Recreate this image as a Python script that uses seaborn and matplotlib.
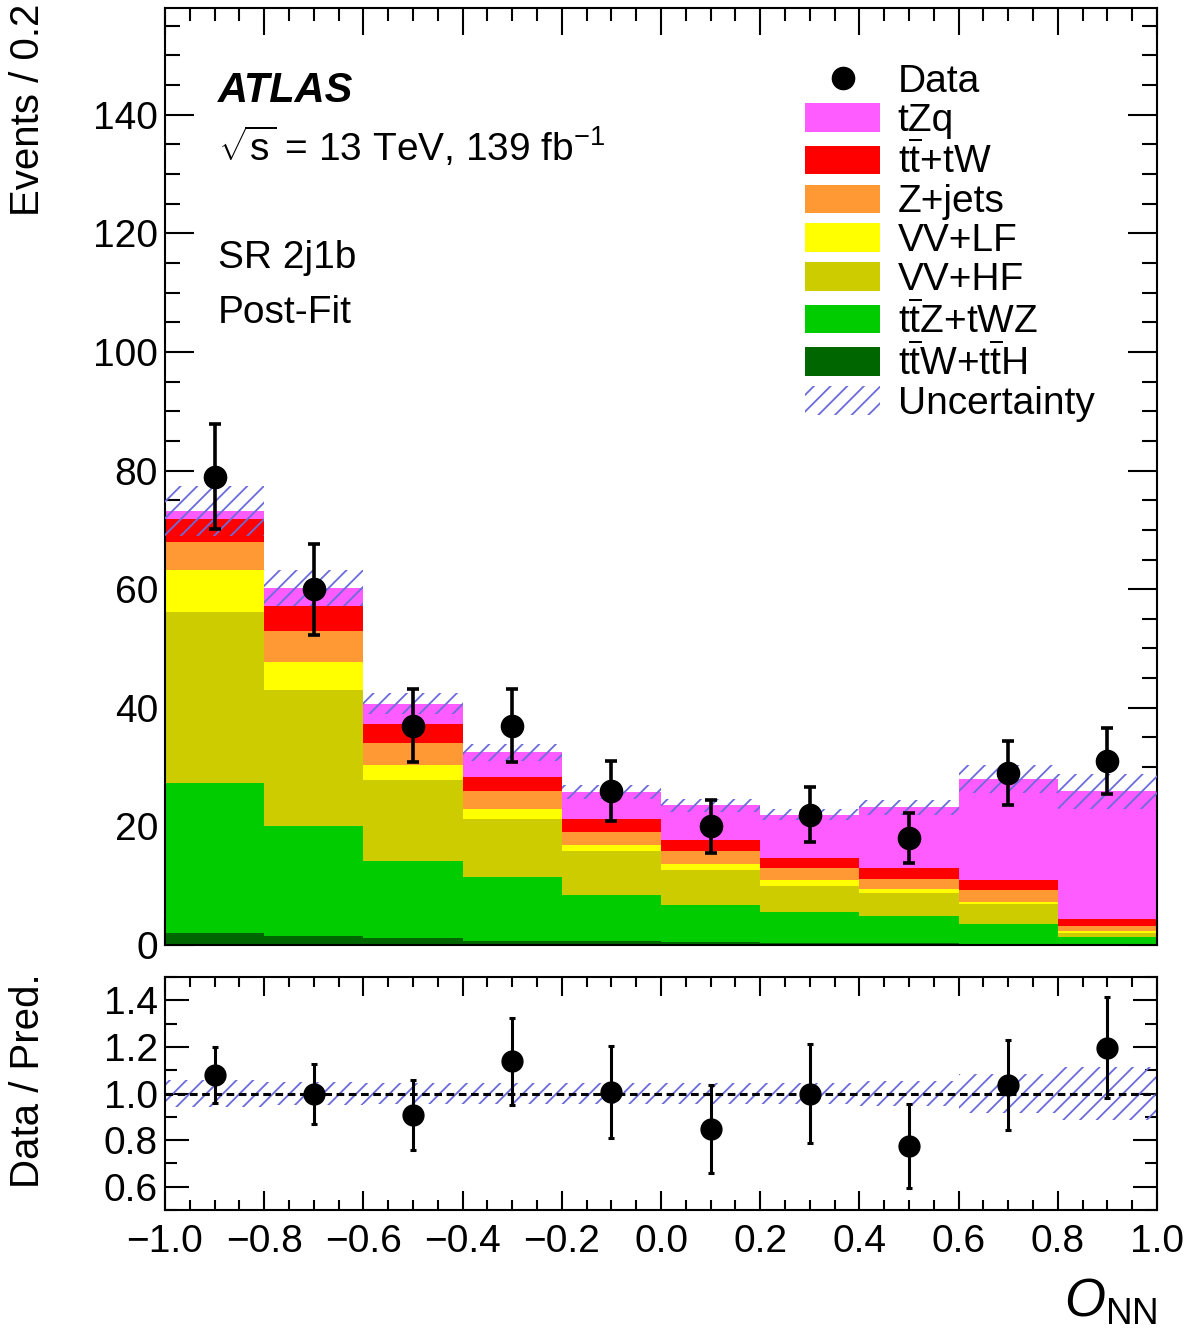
import numpy as np
import pandas as pd
import matplotlib
matplotlib.use("Agg")
import matplotlib.pyplot as plt
import seaborn as sns
from matplotlib.patches import Patch
from matplotlib.lines import Line2D
from matplotlib.ticker import MultipleLocator, FuncFormatter

sns.set_theme(style="ticks")
plt.rcParams["font.family"] = ["Liberation Sans", "DejaVu Sans"]
plt.rcParams["mathtext.fontset"] = "custom"
plt.rcParams["mathtext.rm"] = "Liberation Sans"
plt.rcParams["mathtext.it"] = "Liberation Sans:italic"
plt.rcParams["mathtext.bf"] = "Liberation Sans:bold"
for key in ["text.color", "axes.labelcolor", "xtick.color", "ytick.color", "axes.edgecolor"]:
    plt.rcParams[key] = "black"
HATCH = "#6b6bdc"
plt.rcParams["hatch.color"] = HATCH
plt.rcParams["hatch.linewidth"] = 1.3

# ------------------------------------------------------------
# data (post-fit yields per bin)
# ------------------------------------------------------------
bin_edges = [-1.0, -0.8, -0.6, -0.4, -0.2, 0.0, 0.2, 0.4, 0.6, 0.8, 1.0]

tzq      = [1.4, 3.1, 3.4, 4.1, 4.5, 5.9, 7.4, 10.2, 17.1, 21.5]
tt_tw    = [3.9, 4.2, 3.2, 2.5, 2.2, 1.8, 1.7, 1.8, 1.7, 1.2]
z_jets   = [4.6, 5.2, 3.7, 2.9, 2.3, 2.3, 2.0, 1.8, 1.9, 0.8]
vv_lf    = [7.2, 4.7, 2.5, 1.8, 1.0, 0.9, 0.9, 0.6, 0.4, 0.3]
vv_hf    = [28.7, 22.9, 13.7, 9.8, 7.4, 5.9, 4.5, 3.9, 3.4, 0.7]
ttz_twz  = [25.4, 18.5, 13.1, 10.7, 7.8, 6.3, 5.1, 4.55, 3.25, 1.25]
ttw_tth  = [2.0, 1.6, 1.1, 0.7, 0.6, 0.5, 0.4, 0.35, 0.25, 0.15]

data     = [79, 60, 37, 37, 26, 20, 22, 18, 29, 31]
data_err = [8.9, 7.7, 6.1, 6.1, 5.1, 4.5, 4.7, 4.2, 5.4, 5.6]
syst_unc = [4.2, 3.0, 1.8, 1.4, 1.2, 1.1, 1.0, 1.2, 2.3, 2.9]

tbar = r"$\overline{\mathrm{t}}$"
labels = ["tZq", "t" + tbar + "+tW", "Z+jets", "VV+LF", "VV+HF",
          "t" + tbar + "Z+tWZ", "t" + tbar + "W+t" + tbar + "H"]
colors = ["#ff5cff", "#ff0000", "#ff9933", "#ffff00", "#cccc00", "#00cc00", "#006600"]
yields = [tzq, tt_tw, z_jets, vv_lf, vv_hf, ttz_twz, ttw_tth]

edges = np.array(bin_edges)
centers = 0.5 * (edges[:-1] + edges[1:])

rows = []
for lab, vals in zip(labels, yields):
    for c, v in zip(centers, vals):
        rows.append({"x": c, "w": v, "proc": lab})
df = pd.DataFrame(rows)

total = np.sum(np.array(yields), axis=0)
unc = np.array(syst_unc)
data = np.array(data, dtype=float)
data_err = np.array(data_err)

# ------------------------------------------------------------
# figure layout (pixel geometry of the reference)
# ------------------------------------------------------------
W, H = 1191, 1333
fig = plt.figure(figsize=(W / 100, H / 100), dpi=100)

def fx(px):
    return px / W

def fy(py):
    return 1 - py / H

ax = fig.add_axes([fx(165), fy(945), (1157 - 165) / W, (945 - 8) / H])
rax = fig.add_axes([fx(165), fy(1210), (1157 - 165) / W, (1210 - 977) / H])

# stacked backgrounds (first hue level ends on top of the stack)
sns.histplot(data=df, x="x", weights="w", hue="proc", hue_order=labels,
             palette=dict(zip(labels, colors)), multiple="stack", bins=bin_edges,
             element="step", fill=True, alpha=1, linewidth=0, legend=False, ax=ax)

# uncertainty band
lo = np.append(total - unc, (total - unc)[-1])
hi = np.append(total + unc, (total + unc)[-1])
ax.fill_between(edges, lo, hi, step="post", facecolor="none",
                edgecolor=HATCH, hatch="//", linewidth=0, zorder=3)

# data
ax.errorbar(centers, data, yerr=data_err, fmt="o", color="black",
            markersize=16, elinewidth=2.6, capsize=4, capthick=2.6, zorder=5)

ax.set_xlim(-1, 1)
ax.set_ylim(0, 158)
ax.set_xlabel("")
ax.set_ylabel("")
ax.yaxis.set_major_locator(MultipleLocator(20))
ax.yaxis.set_minor_locator(MultipleLocator(5))
ax.xaxis.set_major_locator(MultipleLocator(0.2))
ax.xaxis.set_minor_locator(MultipleLocator(0.05))
ax.tick_params(axis="both", which="both", direction="in", top=True, right=True,
               width=1.5, labelsize=28, labelbottom=False)
ax.tick_params(axis="y", which="major", length=21, pad=5)
ax.tick_params(axis="y", which="minor", length=10.5)
ax.tick_params(axis="x", which="major", length=19.5)
ax.tick_params(axis="x", which="minor", length=9.5)
for s in ax.spines.values():
    s.set_linewidth(1.5)

# labels in the main panel
fig.text(fx(218), fy(91), "ATLAS", fontsize=30, fontweight="bold",
         fontstyle="italic", ha="left", va="center")
fig.text(fx(218), fy(147), r"$\sqrt{\mathrm{s}}$ = 13 TeV, 139 fb$^{-1}$",
         fontsize=28, ha="left", va="center")
fig.text(fx(218), fy(258), "SR 2j1b", fontsize=28, ha="left", va="center")
fig.text(fx(218), fy(313), "Post-Fit", fontsize=28, ha="left", va="center")

handles = [Line2D([], [], marker="o", color="black", linestyle="none", markersize=16)]
handles += [Patch(facecolor=c, edgecolor="none") for c in colors]
handles += [Patch(facecolor="none", edgecolor=HATCH, hatch="//", linewidth=0)]
fig.legend(handles, ["Data"] + labels + ["Uncertainty"],
           loc="upper left", bbox_to_anchor=(fx(805), fy(64)),
           bbox_transform=fig.transFigure, frameon=False, fontsize=28,
           handlelength=1.93, handleheight=0.75, handletextpad=0.45,
           labelspacing=0.075, borderpad=0, borderaxespad=0)

fig.text(fx(28), fy(4), "Events / 0.2", rotation=90, fontsize=29,
         ha="center", va="top")

# ------------------------------------------------------------
# ratio panel
# ------------------------------------------------------------
ratio = data / total
ratio_err = data_err / total
rlo = np.append(1 - unc / total, (1 - unc / total)[-1])
rhi = np.append(1 + unc / total, (1 + unc / total)[-1])
rax.fill_between(edges, rlo, rhi, step="post", facecolor="none",
                 edgecolor=HATCH, hatch="//", linewidth=0, zorder=2)
rax.axhline(1.0, color="black", linewidth=2.2, dashes=(2.5, 1.5), zorder=3)
rax.errorbar(centers, ratio, yerr=ratio_err, fmt="o", color="black",
             markersize=15, elinewidth=2.2, capsize=2.5, capthick=2.2, zorder=5)

rax.set_xlim(-1, 1)
rax.set_ylim(0.5, 1.5)
rax.yaxis.set_major_locator(MultipleLocator(0.2))
rax.yaxis.set_minor_locator(MultipleLocator(0.1))
rax.xaxis.set_major_locator(MultipleLocator(0.2))
rax.xaxis.set_minor_locator(MultipleLocator(0.05))
rax.yaxis.set_major_formatter(FuncFormatter(lambda v, p: f"{v:.1f}"))

def xfmt(v, p):
    if abs(v) < 1e-9:
        return "0.0"
    return f"{v:.1f}".replace("-", "\u2212")

rax.xaxis.set_major_formatter(FuncFormatter(xfmt))
rax.tick_params(axis="both", which="both", direction="in", top=True, right=True,
                width=1.5, labelsize=28)
rax.tick_params(axis="y", which="major", length=17, pad=5)
rax.tick_params(axis="y", which="minor", length=8.5)
rax.tick_params(axis="x", which="major", length=14, pad=10)
rax.tick_params(axis="x", which="minor", length=7)
for s in rax.spines.values():
    s.set_linewidth(1.5)
rax.set_xlabel("")
rax.set_ylabel("")

fig.text(fx(28), fy(973), "Data / Pred.", rotation=90, fontsize=29,
         ha="center", va="top")
fig.text(fx(1157), fy(1302), r"$O_{\mathrm{NN}}$", fontsize=38,
         ha="right", va="center")

fig.savefig("out.png", dpi=100)
